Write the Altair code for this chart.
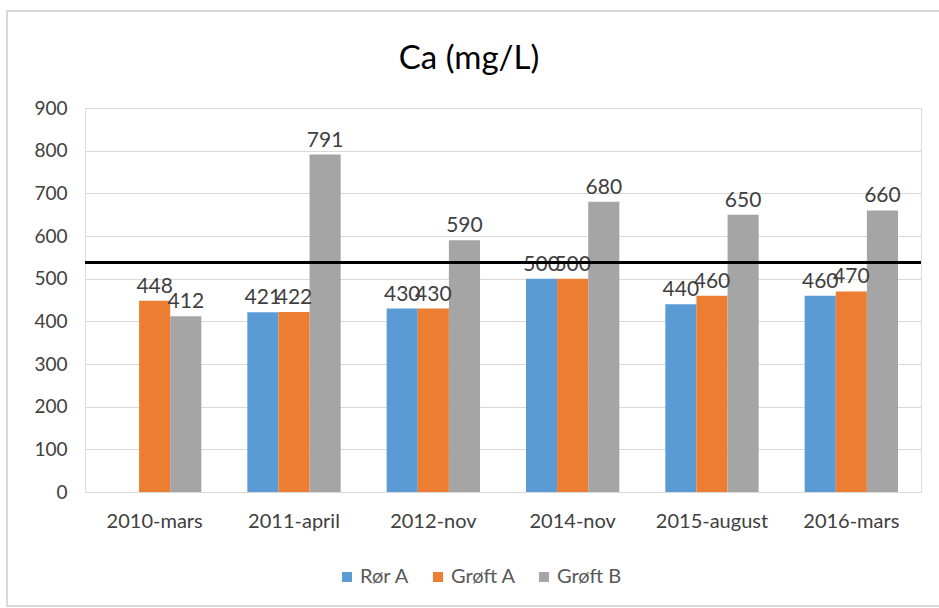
import altair as alt
import pandas as pd

# Sampling dates and the three measuring points
dates = ["2010-mars", "2011-april", "2012-nov", "2014-nov", "2015-august", "2016-mars"]
series = ["Rør A", "Grøft A", "Grøft B"]
ror_a = [None, 421, 430, 500, 440, 460]
groft_a = [448, 422, 430, 500, 460, 470]
groft_b = [412, 791, 590, 680, 650, 660]
limit_value = 538

colors = ["#5B9BD5", "#ED7D31", "#A5A5A5"]
font = "Lato"
text_color = "#404040"

rows = []
for i, d in enumerate(dates):
    for s, vals in zip(series, [ror_a, groft_a, groft_b]):
        rows.append({"dato": d, "serie": s, "verdi": vals[i]})
df = pd.DataFrame(rows)

x = alt.X("dato:N", sort=dates, title=None,
          scale=alt.Scale(paddingInner=0.33, paddingOuter=0.165),
          axis=alt.Axis(labelAngle=0, labelFontSize=20, labelColor=text_color,
                        labelFont=font, labelPadding=19, ticks=False, grid=False,
                        domainColor="#d9d9d9", domainWidth=1))
xoff = alt.XOffset("serie:N", sort=series,
                   scale=alt.Scale(domain=series, paddingInner=0, paddingOuter=0))
y = alt.Y("verdi:Q", title=None,
          scale=alt.Scale(domain=[0, 900], nice=False),
          axis=alt.Axis(values=list(range(0, 1000, 100)), labelFontSize=19,
                        labelColor=text_color, labelFont=font, labelPadding=18,
                        ticks=False, domain=False, gridColor="#d9d9d9"))
color = alt.Color("serie:N", sort=series,
                  scale=alt.Scale(domain=series, range=colors),
                  legend=alt.Legend(title=None, orient="none", direction="horizontal",
                                    legendX=252, legendY=459, symbolType="square",
                                    symbolSize=100, symbolStrokeWidth=0,
                                    labelFontSize=20, labelColor="#595959",
                                    labelFont=font, columnPadding=18, labelOffset=3))

base = alt.Chart(df).transform_filter("datum.verdi != null")

# thin light-grey frame around the whole chart
frame = alt.Chart(pd.DataFrame({"k": [0]})).mark_rect(
    fill=None, stroke="#d9d9d9", strokeWidth=2).encode(
    x=alt.value(-78), x2=alt.value(862), y=alt.value(-97), y2=alt.value(498))

bars = base.mark_bar().encode(x=x, xOffset=xoff, y=y, color=color)

labels = base.mark_text(dy=-14, fontSize=21, color=text_color, font=font).encode(
    x=x, xOffset=xoff, y=y, text=alt.Text("verdi:Q"))

limit = alt.Chart(pd.DataFrame({"grense": [limit_value]})).mark_rule(
    color="black", strokeWidth=3).encode(y=alt.Y("grense:Q"))

chart = alt.layer(frame, bars, labels, limit).properties(
    width=836, height=384,
    title=alt.TitleParams("Ca (mg/L)", fontSize=33, font=font, fontWeight="normal",
                          color="#000000", anchor="middle", dx=-34, offset=-66),
    autosize=alt.AutoSizeParams(type="none"),
    padding={"left": 85, "top": 108, "right": 18, "bottom": 116},
).configure_view(stroke=None).configure(background="white")

chart.save("out.html", embed_options={"renderer": "svg", "actions": False})
